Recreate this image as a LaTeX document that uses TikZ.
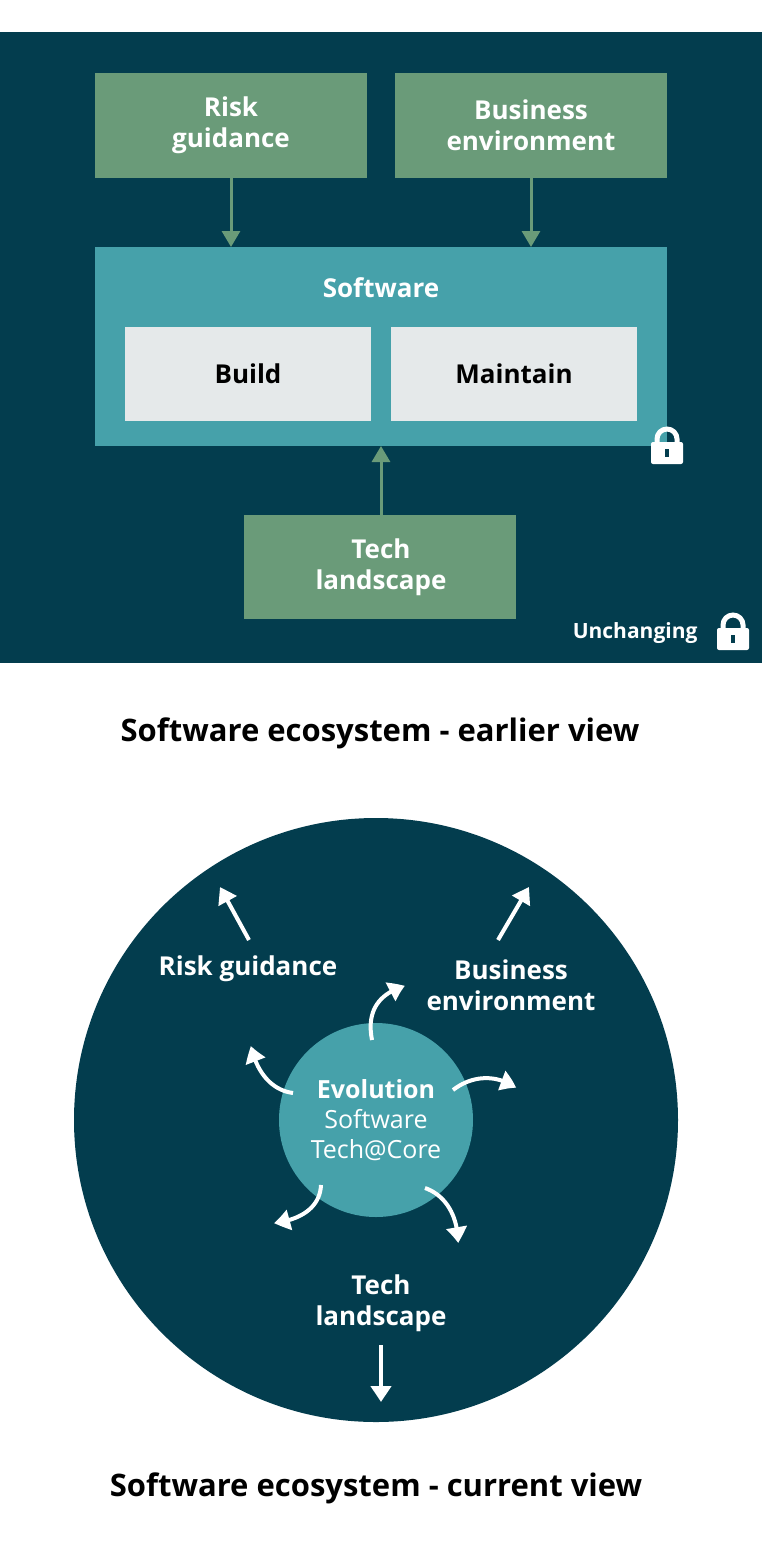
\documentclass[tikz,border=0pt]{standalone}
\usepackage{fontspec}
\setmainfont{Open Sans}
\usetikzlibrary{arrows.meta,calc,bending}
\definecolor{deep}{HTML}{033D4E}
\definecolor{sage}{HTML}{6A9B79}
\definecolor{lagoon}{HTML}{46A1AA}
\definecolor{mist}{HTML}{E5E9EA}
\newcommand{\padlock}[1]{%
  \fill[white,rounded corners=2pt] ($(#1)+(-16,-6)$) rectangle ($(#1)+(16,16)$);
  \draw[white,line width=5pt] ($(#1)+(-10,-4)$) -- ($(#1)+(-10,-9)$) arc (180:360:10) -- ($(#1)+(10,-4)$);
  \fill[deep] ($(#1)+(-2,1)$) rectangle ($(#1)+(2,9)$);}
\tikzset{
  box/.style={font=\bfseries\fontsize{26}{31}\selectfont,align=center,inner sep=0pt},
  feed/.style={sage,line width=3pt,-{Triangle[length=16pt,width=18pt]}},
  drift/.style={white,line width=4pt,-{Triangle[length=16pt,width=20pt,bend]}}
}
\begin{document}
\begin{tikzpicture}[x=1pt,y=-1pt]
  \useasboundingbox (0,0) rectangle (762,1550);
  \fill[white] (0,0) rectangle (762,1550);
  % earlier view
  \fill[deep] (0,32) rectangle (762,663);
  \fill[sage] (95,73) rectangle (367,178);
  \fill[sage] (395,73) rectangle (667,178);
  \fill[lagoon] (95,247) rectangle (667,446);
  \fill[mist] (125,327) rectangle (371,421);
  \fill[mist] (391,327) rectangle (637,421);
  \fill[sage] (244,515) rectangle (516,619);
  \node[box,white] (risk) at (231,125) {Risk\\guidance};
  \node[box,white] (business) at (531,125) {Business\\environment};
  \node[box,white] (software) at (381,288) {Software};
  \node[box] (build) at (248,374) {Build};
  \node[box] (maintain) at (514,374) {Maintain};
  \node[box,white] (tech) at (381,567) {Tech\\landscape};
  \coordinate (riskbot) at (231,178);
  \coordinate (bizbot) at (531,178);
  \coordinate (softriskin) at (231,247);
  \coordinate (softbizin) at (531,247);
  \coordinate (techtop) at (381,515);
  \coordinate (softbot) at (381,446);
  \draw[feed] (riskbot) -- (softriskin);
  \draw[feed] (bizbot) -- (softbizin);
  \draw[feed] (techtop) -- (softbot);
  \node[font=\bfseries\fontsize{21}{25}\selectfont,white,anchor=east] (unchanging) at (701,633) {Unchanging};
  \padlock{667,448}
  \padlock{733,634}
  \node[font=\bfseries\fontsize{31}{37}\selectfont] (earlier) at (380,733) {Software ecosystem - earlier view};
  % current view
  \fill[deep] (376,1120) circle (302);
  \node[circle,fill=lagoon,minimum size=194pt,inner sep=0pt,font=\fontsize{25}{30}\selectfont,text=white,align=center] (evolution) at (376,1120)
    {\textbf{Evolution}\\Software\\Tech@Core};
  \node[box,white] (riskc) at (248,969) {Risk guidance};
  \node[box,white] (businessc) at (511,985) {Business\\environment};
  \node[box,white] (techc) at (381,1303) {Tech\\landscape};
  \coordinate (riskout) at (220,887);
  \coordinate (bizout) at (529,887);
  \coordinate (techout) at (381,1402);
  \draw[drift] (249,940) -- (riskout);
  \draw[drift] (498,940) -- (bizout);
  \draw[drift] (381,1345) -- (techout);
  \draw[drift] (372,1040) .. controls (366,1010) and (380,993) .. (405,986);
  \draw[drift] (293,1093) .. controls (270,1090) and (256,1070) .. (251,1046);
  \draw[drift] (453,1090) .. controls (475,1073) and (500,1076) .. (516,1088);
  \draw[drift] (321,1185) .. controls (320,1208) and (300,1220) .. (274,1223);
  \draw[drift] (425,1188) .. controls (445,1195) and (458,1215) .. (458,1243);
  \node[font=\bfseries\fontsize{31}{37}\selectfont] (current) at (376,1488) {Software ecosystem - current view};
\end{tikzpicture}
\end{document}
